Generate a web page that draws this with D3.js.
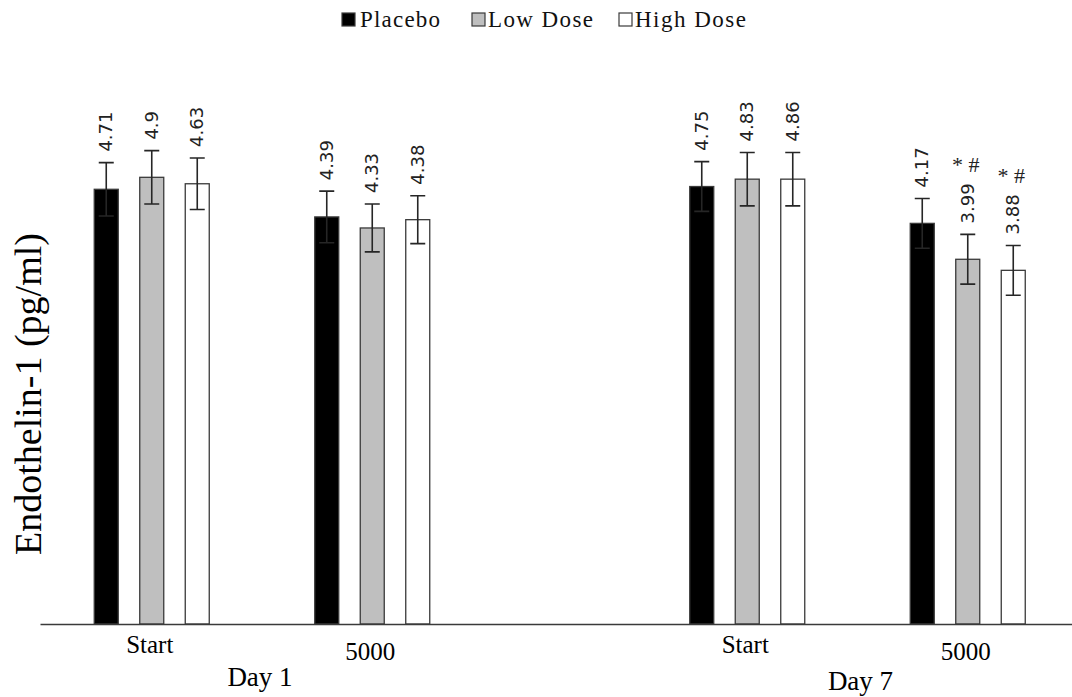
<!DOCTYPE html>
<html>
<head>
<meta charset="utf-8">
<script src="https://cdn.jsdelivr.net/npm/d3@7"></script>
<style>
  html, body { margin: 0; padding: 0; background: #fff; }
  svg { display: block; }
</style>
</head>
<body>
<svg id="chart" width="1072" height="697"></svg>
<script>
// ---------- data ----------
const days = ["Day 1", "Day 7"];
const timepoints = ["Start", "5000"];
const series = ["Placebo", "Low Dose", "High Dose"];

// bar heights, category order: Day1 Start, Day1 5000, Day7 Start, Day7 5000
const placebo  = [4.72, 4.42, 4.75, 4.35];
const lowDose  = [4.85, 4.30, 4.83, 3.96];
const highDose = [4.78, 4.39, 4.83, 3.84];

// error bar half-widths (pg/ml)
const placeboErr  = [0.29, 0.28, 0.27, 0.27];
const lowDoseErr  = [0.29, 0.26, 0.29, 0.27];
const highDoseErr = [0.28, 0.26, 0.29, 0.27];

// printed value labels
const placeboLabels  = ["4.71", "4.39", "4.75", "4.17"];
const lowDoseLabels  = ["4.9",  "4.33", "4.83", "3.99"];
const highDoseLabels = ["4.63", "4.38", "4.86", "3.88"];

// significance marks
const placeboMarks  = ["", "", "", ""];
const lowDoseMarks  = ["", "", "", "*#"];
const highDoseMarks = ["", "", "", "*#"];

const yTitle = "Endothelin-1 (pg/ml)";
const fills = ["#000000", "#bfbfbf", "#ffffff"];

// ---------- build rows ----------
const seriesValues = [placebo, lowDose, highDose];
const seriesErr = [placeboErr, lowDoseErr, highDoseErr];
const seriesLabels = [placeboLabels, lowDoseLabels, highDoseLabels];
const seriesMarks = [placeboMarks, lowDoseMarks, highDoseMarks];
const rows = [];
days.forEach((day, di) => {
  timepoints.forEach((tp, ti) => {
    const c = di * timepoints.length + ti;
    series.forEach((s, si) => {
      rows.push({
        day, tp, s, si,
        v: seriesValues[si][c],
        e: seriesErr[si][c],
        label: seriesLabels[si][c],
        mark: seriesMarks[si][c]
      });
    });
  });
});

// ---------- scales ----------
const baseY = 624;
const y = d3.scaleLinear().domain([0, 5.5]).range([baseY, baseY - 5.5 * 92.1]);
const xDay = d3.scalePoint().domain(days).range([262, 857.5]);
const xTime = d3.scalePoint().domain(timepoints).range([-110.25, 110.25]);
const xSeries = d3.scaleBand().domain(series).range([-57.5, 57.5]).paddingInner(0.4725);
const bw = xSeries.bandwidth();
const barX = d => xDay(d.day) + xTime(d.tp) + xSeries(d.s);
const barCX = d => barX(d) + bw / 2;

const svg = d3.select("#chart");

// ---------- bars ----------
svg.append("g").selectAll("rect").data(rows).join("rect")
  .attr("x", barX)
  .attr("y", d => y(d.v))
  .attr("width", bw)
  .attr("height", d => y(0) - y(d.v))
  .attr("fill", d => fills[d.si])
  .attr("stroke", "#3a3a3a")
  .attr("stroke-width", 1.3);

// ---------- error bars ----------
const capW = 15;
const eg = svg.append("g").attr("stroke", "#262626").attr("stroke-width", 1.6).attr("fill", "none");
eg.selectAll("path").data(rows).join("path")
  .attr("d", d => {
    const cx = barCX(d), t = y(d.v + d.e), b = y(d.v - d.e);
    return `M${cx},${t}V${b}M${cx - capW / 2},${t}H${cx + capW / 2}M${cx - capW / 2},${b}H${cx + capW / 2}`;
  });

// ---------- x axis ----------
const axisG = svg.append("g").attr("transform", `translate(0,${baseY})`);
const axis = d3.axisBottom(d3.scaleLinear().domain([0, 1]).range([40, 1072])).tickValues([]).tickSizeOuter(0);
axisG.call(axis);
axisG.select(".domain").attr("stroke", "#3a3a3a").attr("stroke-width", 1.6);

// ---------- value labels ----------
const labelGap = 11;
const lbl = svg.append("g").selectAll("text").data(rows).join("text")
  .attr("transform", d => `translate(${barCX(d) + 6},${y(d.v + d.e) - labelGap}) rotate(-90)`)
  .attr("font-family", "DejaVu Sans, sans-serif")
  .attr("font-size", 18)
  .attr("fill", "#222")
  .text(d => d.label);

// ---------- significance marks ----------
svg.append("g").selectAll("text").data(rows.filter(d => d.mark)).join("text")
  .attr("x", d => barCX(d) - 2)
  .attr("y", d => {
    const len = lbl.filter(r => r === d).node().getComputedTextLength();
    return y(d.v + d.e) - labelGap - len - 11;
  })
  .attr("text-anchor", "middle")
  .attr("font-family", "Liberation Serif, serif")
  .attr("font-size", 22)
  .attr("fill", "#222")
  .text(d => d.mark.split("").join(" "));

// ---------- category labels ----------
const cats = [];
days.forEach((day, di) => timepoints.forEach((tp, ti) => cats.push({ day, tp, ti })));
svg.append("g").selectAll("text").data(cats).join("text")
  .attr("x", d => xDay(d.day) + xTime(d.tp) - 2)
  .attr("y", d => 653 + d.ti * 7)
  .attr("text-anchor", "middle")
  .attr("font-family", "Liberation Serif, serif")
  .attr("font-size", 25)
  .attr("fill", "#000")
  .text(d => d.tp);

svg.append("g").selectAll("text").data(days).join("text")
  .attr("x", (d, i) => xDay(d) - 2 + i * 5)
  .attr("y", (d, i) => 686 + i * 4)
  .attr("text-anchor", "middle")
  .attr("font-family", "Liberation Serif, serif")
  .attr("font-size", 27)
  .attr("fill", "#000")
  .text(d => d);

// ---------- y title ----------
svg.append("text")
  .attr("transform", "translate(41,394) rotate(-90)")
  .attr("text-anchor", "middle")
  .attr("font-family", "Liberation Serif, serif")
  .attr("font-size", 38)
  .attr("fill", "#000")
  .text(yTitle);

// ---------- legend ----------
const legendX = [342, 472, 619];
const legendTextLen = [80, 105, 111];
const lg = svg.append("g").selectAll("g").data(series).join("g")
  .attr("transform", (d, i) => `translate(${legendX[i]},0)`);
lg.append("rect")
  .attr("x", 0).attr("y", 13).attr("width", 13).attr("height", 13)
  .attr("fill", (d, i) => fills[i])
  .attr("stroke", "#3a3a3a").attr("stroke-width", 1.2);
lg.append("text")
  .attr("x", (d, i) => i === 0 ? 18 : 16)
  .attr("y", 27)
  .attr("font-family", "Liberation Serif, serif")
  .attr("font-size", 23)
  .attr("fill", "#111")
  .attr("textLength", (d, i) => legendTextLen[i])
  .text(d => d);
</script>
</body>
</html>
